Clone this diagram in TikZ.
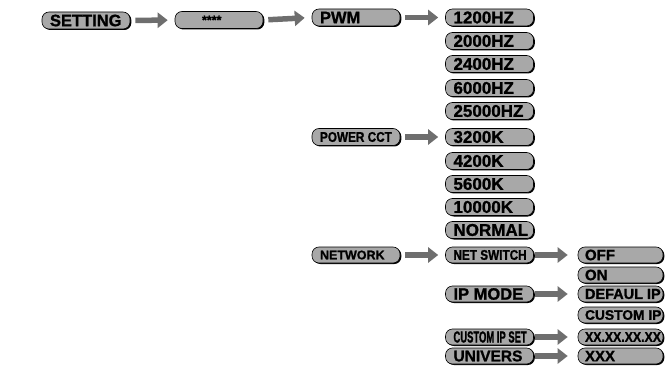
\documentclass[tikz,border=0pt]{standalone}
\usepackage{fontspec}
\usepackage{graphicx}
\setmainfont{Liberation Sans}[BoldFeatures={FakeBold=1.2}]
\usetikzlibrary{arrows.meta,shadows}
\definecolor{boxgray}{RGB}{168,168,168}
\definecolor{arrgray}{RGB}{110,110,110}
\newcommand\tx[2]{\makebox[78pt][l]{\hspace{3pt}\fontsize{#1}{#1}\selectfont\bfseries #2}}
\newcommand\txs[2]{\makebox[75pt][l]{\hspace{2pt}\fontsize{#1}{#1}\selectfont\bfseries #2}}
\begin{document}
\begin{tikzpicture}[x=1pt,y=-1pt,
  box/.style={draw=black, line width=0.6pt, fill=boxgray, rounded corners=7pt,
    minimum height=17pt, inner xsep=5pt, inner ysep=0pt,
    drop shadow={shadow xshift=1.3pt, shadow yshift=-1pt, fill=black, opacity=1}},
  sbox/.style={box, minimum height=16pt},
  arr/.style={draw=arrgray, line width=5.5pt, -{Triangle[length=10pt,width=15pt]},
    shorten <=5pt, shorten >=7pt},
  arrn/.style={arr, shorten <=1pt, shorten >=10pt}]
\useasboundingbox (0,0) rectangle (668,371);
% column 1-2
\node[box] (setting) at (86,20.5) {\tx{16.5}{SETTING}};
\node[box] (pw) at (219,20) {\tx{12.5}{\hspace{19pt}****}};
% column 3
\node[box] (pwm) at (356,17.5) {\tx{16.5}{PWM}};
\node[box] (cct) at (356,137) {\tx{14}{\scalebox{0.84}[1]{POWER CCT}}};
\node[sbox] (net) at (356,255) {\tx{12.5}{NETWORK}};
% column 4
\node[box] (h1) at (489.5,17.5) {\tx{17}{1200HZ}};
\node[box] (h2) at (489.5,41) {\tx{17}{2000HZ}};
\node[box] (h3) at (489.5,64) {\tx{17}{2400HZ}};
\node[box] (h4) at (489.5,88) {\tx{17}{6000HZ}};
\node[box] (h5) at (489.5,111) {\tx{17}{25000HZ}};
\node[box] (k1) at (489.5,137) {\tx{17}{3200K}};
\node[box] (k2) at (489.5,161) {\tx{17}{4200K}};
\node[box] (k3) at (489.5,184) {\tx{17}{5600K}};
\node[box] (k4) at (489.5,207) {\tx{17}{10000K}};
\node[box] (k5) at (489.5,230) {\tx{17}{NORMAL}};
\node[sbox] (nsw) at (489.5,255) {\tx{14}{\scalebox{0.84}[1]{NET SWITCH}}};
\node[sbox] (ipm) at (489.5,294) {\tx{16.5}{IP MODE}};
\node[sbox] (cis) at (489.5,337) {\tx{16}{\scalebox{0.59}[1]{CUSTOM IP SET}}};
\node[sbox] (uni) at (489.5,356) {\tx{15.5}{UNIVERS}};
% column 5
\node[sbox] (off) at (620.5,255) {\txs{15}{OFF}};
\node[sbox] (on) at (620.5,275) {\txs{15}{ON}};
\node[sbox] (dip) at (620.5,294) {\txs{14.5}{DEFAUL IP}};
\node[sbox] (cip) at (620.5,315) {\txs{13.8}{CUSTOM IP}};
\node[sbox] (xx) at (620.5,337) {\txs{14}{\scalebox{0.88}[1]{XX.XX.XX.XX}}};
\node[sbox] (xxx) at (620.5,356) {\txs{15}{XXX}};
% arrows
\draw[arr] (setting) -- (pw);
\draw[arr] (pw.east) -- (pwm.west);
\draw[arr] (pwm) -- (h1);
\draw[arr] (cct) -- (k1);
\draw[arr] (net) -- (nsw);
\draw[arrn] (nsw) -- (off);
\draw[arrn] (ipm) -- (dip);
\draw[arrn] (cis) -- (xx);
\draw[arrn] (uni) -- (xxx);
\end{tikzpicture}
\end{document}
